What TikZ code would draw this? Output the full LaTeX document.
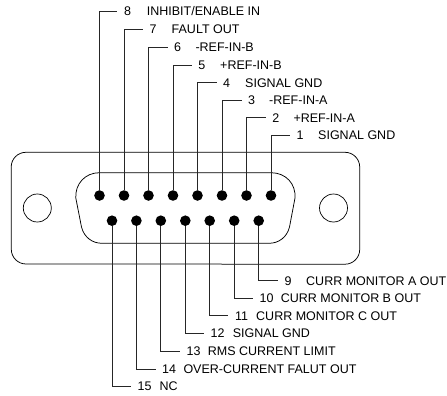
\documentclass[tikz,border=0pt]{standalone}
\usepackage{fontspec}
\setmainfont{Liberation Sans}
\tikzset{
  outline/.style={draw=black,line width=0.75pt},
  pin/.style={circle,fill=black,inner sep=0pt,minimum size=10.6pt},
  numlabel/.style={anchor=west,inner ysep=0pt,inner xsep=0pt,font=\fontsize{12.5pt}{14pt}\selectfont,text height=9pt,text depth=0pt},
  namelabel/.style={anchor=west,inner sep=0pt,font=\fontsize{12.5pt}{14pt}\selectfont,text height=9pt,text depth=0pt},
  leader/.style={draw=black!85,line width=0.85pt},
  hole/.style={circle,draw=black,line width=0.7pt,inner sep=0pt,minimum size=28pt}
}
\newcommand{\pinlabel}[6]{%
  % #1 id, #2 x of leader end, #3 y, #4 number, #5 x of name, #6 name
  \coordinate (end#1) at (#2,#3);
  \node[numlabel] (num#1) at ($(end#1)+(6.5,0)$) {#4};
  \node[namelabel] (name#1) at (#5,#3) {#6};
  \draw[leader] (pin#1) |- (end#1);
}
\usetikzlibrary{calc}
\begin{document}
\begin{tikzpicture}[x=1pt,y=-1pt]
\useasboundingbox (0,0) rectangle (447,396);
\draw[outline] (26,152.3) -- (345,152.3) arc[start angle=90,end angle=0,x radius=14.7,y radius=-14.7] -- (359.7,249.5)
  arc[start angle=0,end angle=-90,x radius=14.7,y radius=-14.7] -- (26,264)
  arc[start angle=-90,end angle=-180,x radius=14.7,y radius=-14.7] -- (11.2,167)
  arc[start angle=180,end angle=90,x radius=14.7,y radius=-14.7] -- cycle;
\draw[outline] (99.5,172.7) -- (271,172.7) .. controls (286,172.7) and (296,184) .. (295,198)
  -- (289.5,227) .. controls (287,237) and (279,243.3) .. (269,243.3)
  -- (102,243.3) .. controls (92,243.3) and (84,237) .. (81.5,227)
  -- (75.8,198) .. controls (75,184) and (85,172.7) .. (99.5,172.7) -- cycle;
\node[hole] (holeL) at (37.3,208) {};
\node[hole] (holeR) at (333.5,208) {};
\node[pin] (pin8) at (99.5,195.5) {};
\node[pin] (pin7) at (124,195.5) {};
\node[pin] (pin6) at (148.5,195.5) {};
\node[pin] (pin5) at (173,195.5) {};
\node[pin] (pin4) at (197.5,195.5) {};
\node[pin] (pin3) at (222,195.5) {};
\node[pin] (pin2) at (246.5,195.5) {};
\node[pin] (pin1) at (271,195.5) {};
\node[pin] (pin15) at (112,220.7) {};
\node[pin] (pin14) at (136.4,220.7) {};
\node[pin] (pin13) at (160.8,220.7) {};
\node[pin] (pin12) at (185.3,220.7) {};
\node[pin] (pin11) at (209.7,220.7) {};
\node[pin] (pin10) at (234.2,220.7) {};
\node[pin] (pin9) at (258.7,220.7) {};
\pinlabel{8}{117.3}{11}{8}{146.7}{INHIBIT/ENABLE IN}
\pinlabel{7}{143}{29}{7}{171.5}{FAULT OUT}
\pinlabel{6}{167.5}{47}{6}{195.3}{-REF-IN-B}
\pinlabel{5}{191.7}{65}{5}{220}{+REF-IN-B}
\pinlabel{4}{216.5}{82.7}{4}{245}{SIGNAL GND}
\pinlabel{3}{241.5}{100}{3}{269}{-REF-IN-A}
\pinlabel{2}{265.7}{117.5}{2}{293.3}{+REF-IN-A}
\pinlabel{1}{290}{135}{1}{318}{SIGNAL GND}
\pinlabel{9}{278}{280.7}{9}{306}{CURR MONITOR A OUT}
\pinlabel{10}{253}{298}{10}{280.7}{CURR MONITOR B OUT}
\pinlabel{11}{228.3}{315.7}{11}{256}{CURR MONITOR C OUT}
\pinlabel{12}{204}{333}{12}{232.7}{SIGNAL GND}
\pinlabel{13}{180}{351}{13}{207.7}{RMS CURRENT LIMIT}
\pinlabel{14}{155.5}{369}{14}{183.3}{OVER-CURRENT FALUT OUT}
\pinlabel{15}{131}{386.3}{15}{159.3}{NC}
\end{tikzpicture}
\end{document}
